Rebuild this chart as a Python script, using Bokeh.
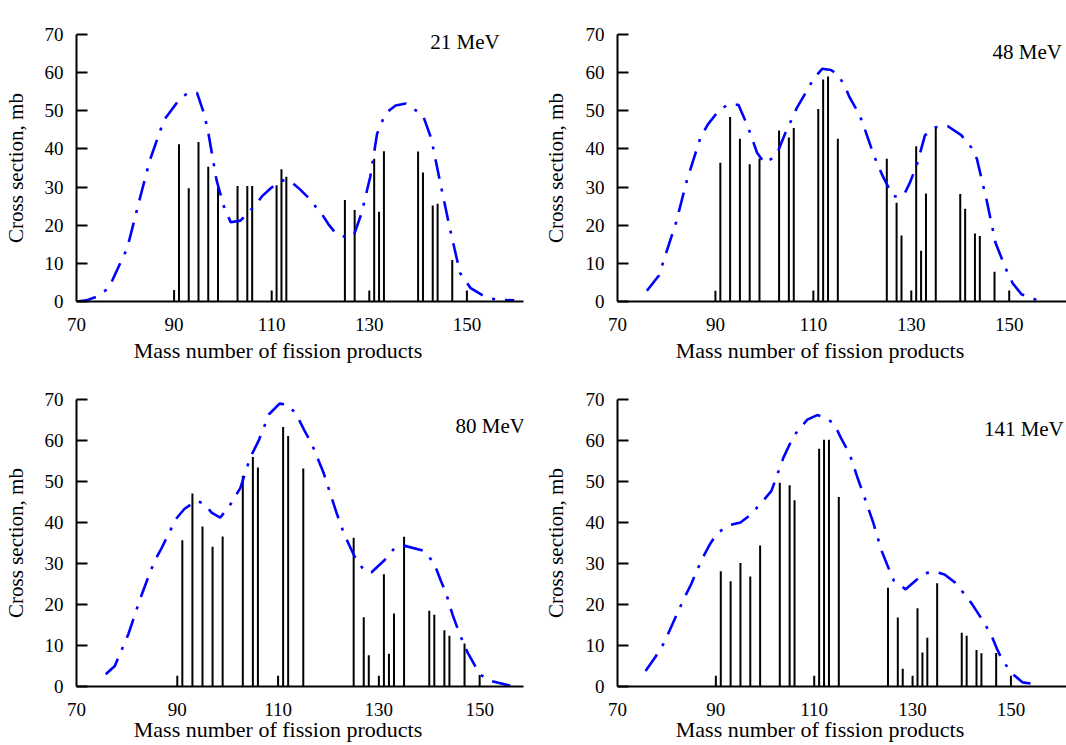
from bokeh.plotting import figure
from bokeh.layouts import row, column
from bokeh.models import Label, FixedTicker, Range1d
from bokeh.embed import file_html
from bokeh.resources import INLINE

FONT = "Liberation Serif"
X_TICKS = [70, 90, 110, 130, 150]
Y_TICKS = [0, 10, 20, 30, 40, 50, 60, 70]
X_TITLE = "Mass number of fission products"
Y_TITLE = "Cross section, mb"

# ---- 21 MeV ----
mass_21 = [90, 91, 93, 95, 97, 99, 103, 105, 106, 110, 111, 112, 113, 125, 127,
           130, 131, 132, 133, 140, 141, 143, 144, 147, 150]
sigma_21 = [3.0, 41.2, 29.7, 41.8, 35.3, 29.9, 30.3, 30.3, 30.3, 2.9, 30.5, 34.7, 32.7, 26.6, 24.0,
            2.9, 37.4, 23.5, 39.4, 39.3, 33.8, 25.2, 25.6, 10.9, 2.9]
curve_x_21 = [70, 72, 74, 76.6, 80.4, 82.7, 85, 87.9, 90.9, 92.6, 94.7, 96.2, 97.1, 98.7, 100.3,
              101.6, 103.6, 106.7, 108.1, 109.8, 111.5, 112.7, 114, 115.8, 117.3, 120.4, 121.6,
              123.1, 125.1, 126.8, 128.4, 130.2, 131.6, 133.3, 135.4, 137.5, 141, 142.7, 144.5,
              146.5, 148.6, 150.7, 153.5, 155.9, 159.7]
curve_y_21 = [0, 0.3, 1.2, 3.5, 14, 25.6, 36.9, 47.5, 52.7, 54.5, 54.7, 49, 43.6, 31.8, 24.5,
              20.8, 21.2, 25.3, 27.7, 29.7, 31.3, 31.9, 31.4, 29.4, 27.5, 22.7, 20.3,
              17.9, 16.9, 17.2, 23.1, 32.7, 44, 49.3, 51.4, 51.9, 48.8, 42.7, 31.4,
              19.2, 7.5, 3.6, 1.4, 0.5, 0.3]

# ---- 48 MeV ----
mass_48 = [90, 91, 93, 95, 97, 99, 103, 105, 106, 110, 111, 112, 113, 115, 125, 127, 128,
           130, 131, 132, 133, 135, 140, 141, 143, 144, 147, 150]
sigma_48 = [2.8, 36.4, 48.4, 42.7, 36.0, 37.5, 44.8, 43.0, 45.5, 2.9, 50.5, 58.2, 59.0, 42.7, 37.4, 25.9, 17.3,
            2.9, 40.7, 13.3, 28.3, 45.7, 28.2, 24.3, 17.8, 17.2, 7.8, 2.9]
curve_x_48 = [76, 78.5, 79.2, 82, 84.2, 87, 88.5, 90.6, 92.5, 94.7, 96.4, 97.2, 98.5, 100, 101.7,
              102.9, 104.7, 105.7, 106.6, 108.7, 110.1, 111.8, 113.6, 115, 116.5, 117.3, 119.4,
              120.2, 122.4, 123.3, 124.2, 126.2, 127.2, 128.6, 129.7, 131.1, 132.8, 135, 137.4,
              140.2, 142.3, 143.4, 144.4, 145.4, 147.2, 149.3, 150.7, 152.5, 155.6]
curve_y_48 = [2.8, 6.9, 9.8, 20.9, 31.9, 43.2, 46.5, 49.9, 51.6, 51.6, 46.5, 43.8, 39, 36.3, 37.6,
              39.8, 45.5, 48, 50.7, 55.3, 58.5, 61, 60.7, 59.5, 56.3, 53.8, 49,
              46.3, 38.2, 35.4, 32.8, 27.7, 27.4, 28.2, 31.1, 35.7, 43.6, 45.7, 46,
              43.6, 40.3, 37.4, 31.9, 26.5, 15.4, 8.6, 4.8, 1.9, 0.4]

# ---- 80 MeV ----
mass_80 = [90, 91, 93, 95, 97, 99, 103, 105, 106, 110, 111, 112, 115, 125, 127, 128,
           130, 131, 132, 133, 135, 140, 141, 143, 144, 147, 150]
sigma_80 = [2.6, 35.7, 47.1, 39.0, 34.1, 36.6, 51.4, 56.0, 53.4, 2.6, 63.3, 61.1, 53.2, 36.3, 16.9, 7.6,
            2.6, 27.4, 8.0, 17.8, 36.5, 18.5, 17.5, 13.7, 12.4, 10.5, 2.8]
curve_x_80 = [75.8, 77.6, 79.4, 80.3, 82.5, 84.7, 85.7, 86.7, 89.7, 91.4, 93.8, 95.5, 96.8, 98.5,
              100.2, 102.5, 104.5, 106.2, 108.2, 110.3, 111.95, 113.6, 115.2, 116.7, 119, 121.7,
              123.1, 125.1, 127.1, 128.5, 131.1, 133.2, 135.2, 138.9, 140.9, 142.3, 143.3, 144.6,
              146, 147.6, 150, 152, 156.1]
curve_y_80 = [3.0, 5.0, 10.2, 12.8, 20.9, 28.2, 31.1, 33.3, 40.8, 43.3, 45.3, 44.5, 42.4, 41.2,
              43.7, 48.4, 55.9, 60.1, 66.4, 69.0, 68.7, 66.4, 62.5, 59.1, 52.2, 42,
              37.2, 31.9, 28.2, 27.8, 30.8, 33.9, 34.3, 33.1, 30.2, 25.8, 22.9, 17.6,
              12.9, 8.3, 3.0, 1.4, 0.2]

# ---- 141 MeV ----
mass_141 = [90, 91, 93, 95, 97, 99, 103, 105, 106, 110, 111, 112, 113, 115, 125, 127, 128,
            130, 131, 132, 133, 135, 140, 141, 143, 144, 147, 150]
sigma_141 = [2.6, 28.1, 25.7, 30.1, 26.8, 34.4, 49.7, 49.1, 45.4, 2.6, 58.0, 60.2, 60.2, 46.2, 24.1, 16.8, 4.3,
             2.6, 19.1, 8.3, 11.9, 25.2, 13.1, 12.4, 8.9, 8.1, 8.2, 2.6]
curve_x_141 = [75.7, 77.7, 79.5, 83.3, 85, 87.1, 88.8, 90.2, 92.6, 95, 97.1, 99.9, 101.3, 103.7,
               105.8, 108.6, 110.6, 112.3, 114.1, 115.4, 117.2, 118.9, 120, 122, 123.7, 124.8,
               126.2, 128.6, 130.7, 132.4, 134.5, 136.5, 138.6, 140.3, 142.1, 144.1, 145.9,
               147.2, 148.3, 150.4, 152.4, 155.2]
curve_y_141 = [3.8, 7.2, 10.7, 20.9, 25.0, 30.9, 34.7, 37.3, 39.3, 40, 41.9, 45.7, 47.7, 55.7,
               61.1, 65.1, 66.2, 65.6, 64, 60.7, 56.7, 50.6, 46.9, 40, 33.1, 29.8,
               25.8, 23.7, 25.9, 27.6, 28, 27.3, 25.4, 22.9, 20.1, 16.4, 12.8,
               9.1, 6.3, 3.0, 1.0, 0.5]

energy_labels = ["21 MeV", "48 MeV", "80 MeV", "141 MeV"]


def panel(width, height, bl, br, bt, bb, x_end, mass, sigma, cx, cy, elabel,
          lx, ly, title_standoff, ylabel_standoff):
    p = figure(width=width, height=height,
               x_range=Range1d(70, x_end), y_range=Range1d(0, 70),
               output_backend="svg", toolbar_location=None,
               min_border_left=bl, min_border_right=br,
               min_border_top=bt, min_border_bottom=bb)
    p.outline_line_color = None
    p.grid.visible = False
    p.background_fill_color = "white"
    p.border_fill_color = "white"

    p.segment(x0=mass, y0=[0] * len(mass), x1=mass, y1=sigma,
              line_color="black", line_width=2)
    p.line(cx, cy, line_color="#0000ff", line_width=2.6, line_dash="20 10 3 10")

    for ax in (p.xaxis[0], p.yaxis[0]):
        ax.axis_line_width = 2
        ax.axis_line_color = "black"
        ax.minor_tick_line_color = None
        ax.major_label_text_font = FONT
        ax.major_label_text_font_size = "19px"
        ax.major_label_text_color = "black"
        ax.major_tick_line_color = "black"
        ax.major_tick_line_width = 2
        ax.axis_label_text_font = FONT
        ax.axis_label_text_font_style = "normal"
        ax.axis_label_text_color = "black"

    p.xaxis.ticker = FixedTicker(ticks=X_TICKS)
    p.xaxis.major_tick_in = 0
    p.xaxis.major_tick_out = 0
    p.xaxis.major_label_standoff = 16
    # trailing no-break spaces shift the centred title left, as in the original
    p.xaxis.axis_label = X_TITLE + "\u00a0" * 8
    p.xaxis.axis_label_text_font_size = "22px"
    p.xaxis.axis_label_standoff = title_standoff

    p.yaxis.ticker = FixedTicker(ticks=Y_TICKS)
    p.yaxis.major_tick_in = 11
    p.yaxis.major_tick_out = 0
    p.yaxis.major_label_standoff = 13
    p.yaxis.axis_label = Y_TITLE
    p.yaxis.axis_label_text_font_size = "21px"
    p.yaxis.axis_label_standoff = ylabel_standoff

    p.add_layout(Label(x=lx, y=ly, text=elabel, text_align="left",
                       text_baseline="middle", text_font=FONT,
                       text_font_size="21px", text_color="black"))
    return p


p1 = panel(533, 370, 75, 10, 34, 68, 161.6, mass_21, sigma_21, curve_x_21, curve_y_21,
           energy_labels[0], 142.5, 68.1, 4, 14)
p2 = panel(533, 370, 84, 0, 21, 69, 161.7, mass_48, sigma_48, curve_x_48, curve_y_48,
           energy_labels[1], 146.6, 65.3, 4, 15)
p3 = panel(533, 375, 75, 10, 29, 59, 158.7, mass_80, sigma_80, curve_x_80, curve_y_80,
           energy_labels[2], 145.2, 63.6, -2, 14)
p4 = panel(533, 375, 84, 0, 29, 59, 161.3, mass_141, sigma_141, curve_x_141, curve_y_141,
           energy_labels[3], 144.5, 62.9, -2, 15)

layout = column(row(p1, p2), row(p3, p4))
open("out.html", "w").write(file_html(layout, INLINE))
